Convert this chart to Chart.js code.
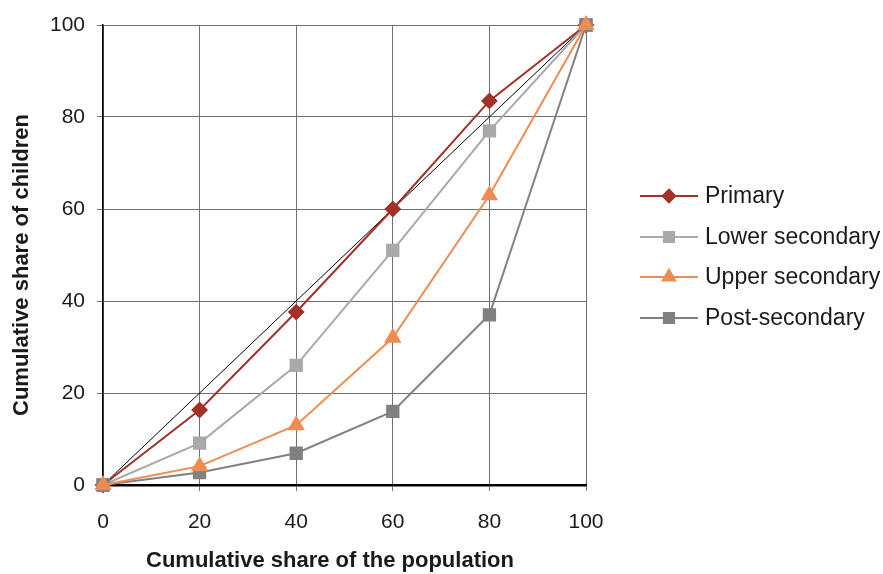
<!DOCTYPE html>
<html>
<head>
<meta charset="utf-8">
<script src="https://cdn.jsdelivr.net/npm/chart.js@4/dist/chart.umd.min.js"></script>
<style>
html,body{margin:0;padding:0;background:#fff;}
#wrap{width:883px;height:574px;position:relative;}
</style>
</head>
<body>
<div id="wrap"><canvas id="c" width="883" height="574"></canvas></div>
<script>
// ---- data ----
const populationShare = [0, 20, 40, 60, 80, 100];
const primary        = [0, 16.3, 37.6, 60, 83.5, 100];
const lowerSecondary = [0, 9.1, 26, 51, 77, 100];
const upperSecondary = [0, 4.1, 13, 32, 63, 100];
const postSecondary  = [0, 2.7, 6.9, 16, 37, 100];
const equality       = [0, 20, 40, 60, 80, 100];
const seriesNames = ['Primary', 'Lower secondary', 'Upper secondary', 'Post-secondary'];
const xTitle = 'Cumulative share of the population';
const yTitle = 'Cumulative share of children';

const pts = arr => arr.map((v, i) => ({x: populationShare[i], y: v}));
const FONT = "'Liberation Sans', Arial, sans-serif";
const TXT = '#1a1a1a';

const datasets = [
  {label: seriesNames[0], data: pts(primary), borderColor: '#a2312a', backgroundColor: '#a2312a',
   pointStyle: 'rectRot', pointRadius: 7, pointHoverRadius: 7, borderWidth: 2, order: 4, clip: false},
  {label: seriesNames[1], data: pts(lowerSecondary), borderColor: '#a9a9a9', backgroundColor: '#a9a9a9',
   pointStyle: 'rect', pointRadius: 8, pointHoverRadius: 8, borderWidth: 2, order: 3, clip: false},
  {label: seriesNames[2], data: pts(upperSecondary), borderColor: '#ee8c52', backgroundColor: '#ee8c52',
   pointStyle: 'triangle', pointRadius: 8, pointHoverRadius: 8, borderWidth: 2, order: 1, clip: false},
  {label: seriesNames[3], data: pts(postSecondary), borderColor: '#808080', backgroundColor: '#808080',
   pointStyle: 'rect', pointRadius: 8, pointHoverRadius: 8, borderWidth: 2, order: 2, clip: false},
  {label: 'Equality', data: pts(equality), borderColor: '#000', backgroundColor: '#000',
   pointRadius: 0, borderWidth: 1, order: 5, isRef: true}
];

const customText = {
  id: 'customText',
  afterDraw(chart) {
    const ctx = chart.ctx;
    ctx.save();
    // axis titles
    ctx.fillStyle = TXT;
    ctx.font = "bold 22px " + FONT;
    ctx.textAlign = 'center';
    ctx.textBaseline = 'middle';
    ctx.fillText(xTitle, 330, 561);
    ctx.translate(22, 265);
    ctx.rotate(-Math.PI / 2);
    ctx.fillText(yTitle, 0, 0);
    ctx.restore();

    // legend
    ctx.save();
    const ys = [196, 237, 277, 318];
    chart.data.datasets.forEach((ds, i) => {
      if (ds.isRef) return;
      const y = ys[i];
      ctx.strokeStyle = ds.borderColor;
      ctx.lineWidth = 2;
      ctx.beginPath();
      ctx.moveTo(640, y);
      ctx.lineTo(698, y);
      ctx.stroke();
      ctx.fillStyle = ds.backgroundColor;
      ctx.strokeStyle = ds.borderColor;
      Chart.helpers.drawPoint(ctx, {pointStyle: ds.pointStyle, radius: ds.pointRadius * 0.9, rotation: 0, borderWidth: 1}, 669, y);
      ctx.fillStyle = TXT;
      ctx.font = "23px " + FONT;
      ctx.textAlign = 'left';
      ctx.textBaseline = 'middle';
      ctx.fillText(ds.label, 705, y + 1);
    });
    ctx.restore();
  }
};

new Chart(document.getElementById('c'), {
  type: 'line',
  data: {datasets},
  options: {
    responsive: false,
    animation: false,
    devicePixelRatio: 1,
    layout: {padding: {top: 25, right: 297, left: 0, bottom: 0}},
    plugins: {legend: {display: false}, tooltip: {enabled: false}},
    elements: {line: {tension: 0}, point: {borderWidth: 1}},
    scales: {
      x: {
        type: 'linear', min: 0, max: 100,
        ticks: {stepSize: 20, color: TXT, font: {size: 21, family: FONT}, padding: 19},
        grid: {color: '#707070', lineWidth: 1, tickLength: 6, drawTicks: true},
        border: {color: '#000', width: 2.5},
        afterFit(s) { s.height = 89; }
      },
      y: {
        min: 0, max: 100,
        ticks: {stepSize: 20, color: TXT, font: {size: 21, family: FONT}, padding: 12},
        grid: {color: '#707070', lineWidth: 1, tickLength: 6, drawTicks: true},
        border: {color: '#000', width: 1.5},
        afterFit(s) { s.width = 103; }
      }
    }
  },
  plugins: [customText]
});
</script>
</body>
</html>
